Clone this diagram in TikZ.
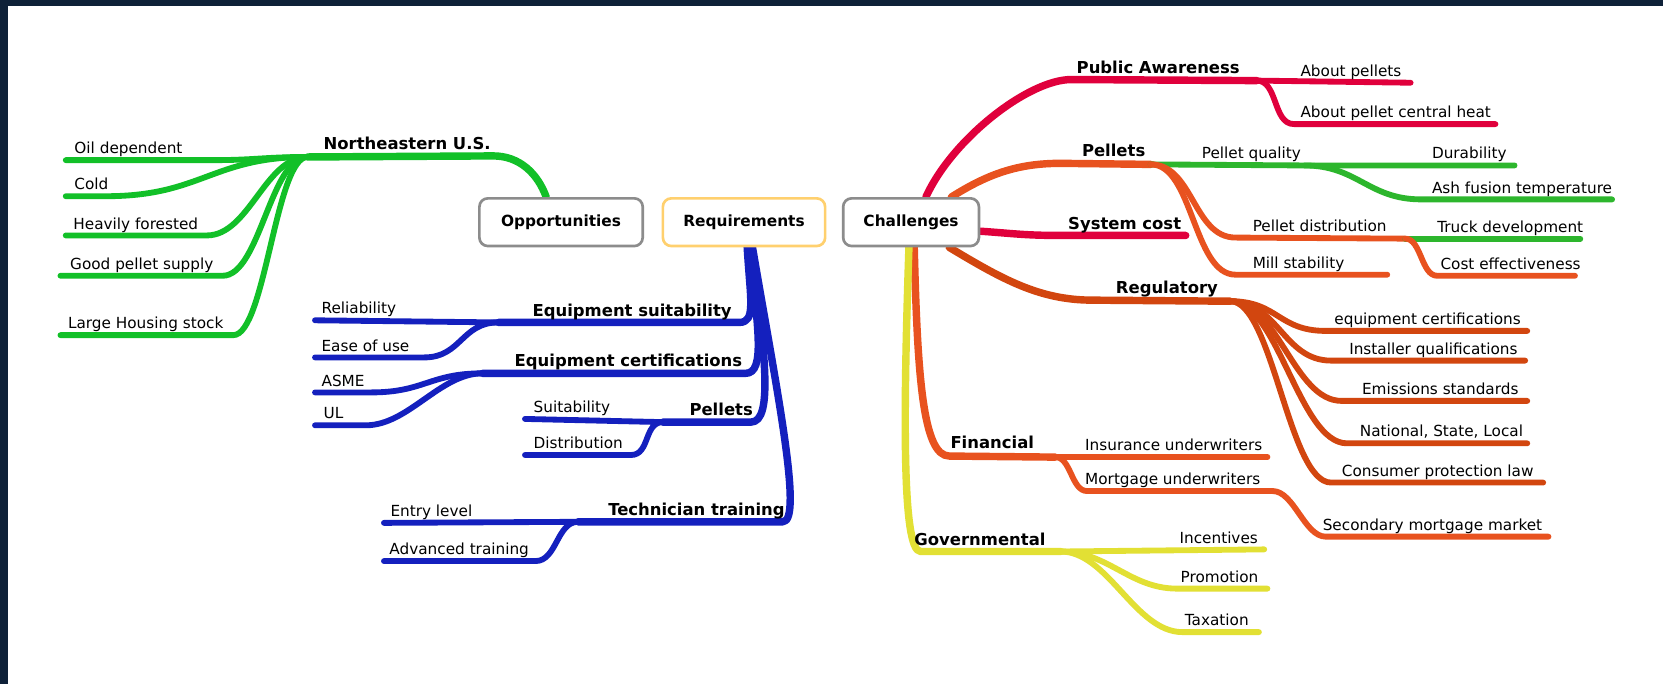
\documentclass[tikz,border=0pt]{standalone}
\usepackage{fontspec}
\setmainfont{DejaVu Sans}
\definecolor{frame}{RGB}{14,33,56}
\definecolor{gOpp}{RGB}{18,192,40}
\definecolor{bReq}{RGB}{20,32,190}
\definecolor{cRed}{RGB}{224,0,60}
\definecolor{cOrange}{RGB}{232,82,31}
\definecolor{cRust}{RGB}{210,70,15}
\definecolor{cYellow}{RGB}{226,224,52}
\definecolor{cGreen}{RGB}{45,182,45}
\definecolor{boxGray}{RGB}{140,140,140}
\definecolor{boxGold}{RGB}{255,208,110}
\pgfdeclarelayer{back}
\pgfsetlayers{back,main}
% a sub-topic line: outer end -- knee, then an S-curve into the junction
\newcommand{\limb}[5]{\draw[wire,#1] (#4) -- (#3) .. controls +({#5},0) and +({-(#5)},0) .. (#2);}
\begin{document}
\begin{tikzpicture}[x=1pt,y=-1pt,
  leaf/.style={font=\fontsize{14.4}{16}\selectfont, inner sep=0pt, anchor=base west},
  branch/.style={font=\bfseries\fontsize{15.5}{18}\selectfont, inner sep=0pt, anchor=base west},
  root/.style={draw, fill=white, rounded corners=8pt, line width=2.5pt, minimum height=45pt, inner sep=0pt, font=\bfseries\fontsize{14.5}{17}\selectfont},
  wire/.style={line width=5.5pt, line cap=round, line join=round},
  trunk/.style={wire, line width=7pt},
]
\useasboundingbox (0,0) rectangle (1568,645);

% central topics
\node[root, draw=boxGray, minimum width=154pt] (opp) at (529,209.5) {\raisebox{-1pt}{Opportunities}};
\node[root, draw=boxGold, minimum width=153pt] (req) at (701.5,209.5) {\raisebox{-1pt}{Requirements}};
\node[root, draw=boxGray, minimum width=128pt] (chal) at (859,209.5) {\raisebox{-1pt}{Challenges}};

% junctions, knees and outer ends
\coordinate (ne-j) at (290,148);   \coordinate (ne-e) at (465,147);
\coordinate (oil-k) at (200,151);  \coordinate (oil-l) at (62,151);
\coordinate (cold-k) at (100,185); \coordinate (cold-l) at (62,185);
\coordinate (hf-k) at (195,222);   \coordinate (hf-l) at (62,222);
\coordinate (gp-k) at (210,260);   \coordinate (gp-l) at (57,260);
\coordinate (lh-k) at (220,316);   \coordinate (lh-l) at (57,316);

\coordinate (es-k) at (697,304);   \coordinate (es-j) at (470,304);
\coordinate (ec-k) at (703,352);   \coordinate (ec-j) at (455,352);
\coordinate (pl-k) at (708,398);   \coordinate (pl-j) at (625,398);
\coordinate (tt-k) at (738,492);   \coordinate (tt-j) at (545,492);
\coordinate (rel-l) at (297,302);
\coordinate (ease-k) at (400,337); \coordinate (ease-l) at (297,337);
\coordinate (asme-k) at (350,370); \coordinate (asme-l) at (297,370);
\coordinate (ul-k) at (345,401);   \coordinate (ul-l) at (297,401);
\coordinate (suit-l) at (495,395);
\coordinate (dist-k) at (595,429); \coordinate (dist-l) at (495,429);
\coordinate (entry-l) at (362,493);
\coordinate (adv-k) at (505,529);  \coordinate (adv-l) at (362,529);

\coordinate (pa-k) at (1010,75);   \coordinate (pa-j) at (1185,76);
\coordinate (ap-r) at (1330,78);
\coordinate (apc-k) at (1220,117); \coordinate (apc-r) at (1410,117);
\coordinate (pe-k) at (1000,154);  \coordinate (pe-j) at (1085,155);
\coordinate (pq-j) at (1230,156);  \coordinate (dur-r) at (1428,156);
\coordinate (ash-k) at (1340,188); \coordinate (ash-r) at (1520,188);
\coordinate (pd-k) at (1165,224);  \coordinate (pd-j) at (1325,225);
\coordinate (tr-r) at (1490,225);
\coordinate (ce-k) at (1355,260);  \coordinate (ce-r) at (1485,260);
\coordinate (ms-k) at (1165,259);  \coordinate (ms-r) at (1308,259);
\coordinate (sc-k) at (1000,222);  \coordinate (sc-r) at (1118,222);
\coordinate (rg-k) at (1030,283);  \coordinate (rg-j) at (1160,284);
\coordinate (eqc-k) at (1250,312); \coordinate (eqc-r) at (1440,312);
\coordinate (ins-k) at (1255,340); \coordinate (ins-r) at (1438,340);
\coordinate (em-k) at (1265,378);  \coordinate (em-r) at (1440,378);
\coordinate (nat-k) at (1270,418); \coordinate (nat-r) at (1440,418);
\coordinate (con-k) at (1255,455); \coordinate (con-r) at (1455,455);
\coordinate (fi-k) at (895,430);   \coordinate (fi-j) at (995,431);
\coordinate (iu-r) at (1195,431);
\coordinate (mo-k) at (1025,463);  \coordinate (mo-j) at (1200,463);
\coordinate (sm-k) at (1250,506);  \coordinate (sm-r) at (1460,506);
\coordinate (gv-k) at (868,520);   \coordinate (gv-j) at (1000,520);
\coordinate (inc-r) at (1192,518);
\coordinate (pro-k) at (1110,555); \coordinate (pro-r) at (1195,555);
\coordinate (tax-k) at (1115,596); \coordinate (tax-r) at (1187,596);

\begin{pgfonlayer}{back}
  \fill[white] (0,0) rectangle (1568,645);
  \fill[frame] (0,0) rectangle (1568,6);
  \fill[frame] (0,0) rectangle (8,645);

  % Opportunities
  \draw[trunk,gOpp] ([xshift=-14pt]opp.north) .. controls +(-8,-22) and +(25,0) .. (ne-e) -- (ne-j);
  \limb{gOpp}{ne-j}{oil-k}{oil-l}{40}
  \limb{gOpp}{ne-j}{cold-k}{cold-l}{90}
  \limb{gOpp}{ne-j}{hf-k}{hf-l}{40}
  \limb{gOpp}{ne-j}{gp-k}{gp-l}{35}
  \limb{gOpp}{ne-j}{lh-k}{lh-l}{30}

  % Requirements
  \draw[trunk,bReq] ([xshift=3pt]req.south) .. controls +(3,50) and +(16,0) .. (es-k) -- (es-j);
  \draw[trunk,bReq] ([xshift=5pt]req.south) .. controls +(8,75) and +(19,0) .. (ec-k) -- (ec-j);
  \draw[trunk,bReq] ([xshift=7pt]req.south) .. controls +(12,95) and +(22,0) .. (pl-k) -- (pl-j);
  \draw[trunk,bReq] ([xshift=8pt]req.south) .. controls +(22,130) and +(20,0) .. (tt-k) -- (tt-j);
  \draw[wire,bReq] (rel-l) -- (es-j);
  \limb{bReq}{es-j}{ease-k}{ease-l}{35}
  \limb{bReq}{ec-j}{asme-k}{asme-l}{50}
  \limb{bReq}{ec-j}{ul-k}{ul-l}{40}
  \draw[wire,bReq] (suit-l) -- (pl-j);
  \limb{bReq}{pl-j}{dist-k}{dist-l}{18}
  \draw[wire,bReq] (entry-l) -- (tt-j);
  \limb{bReq}{tt-j}{adv-k}{adv-l}{20}

  % Challenges
  \draw[trunk,cRed] ([xshift=14pt]chal.north) .. controls +(25,-55) and +(-40,0) .. (pa-k) -- (pa-j);
  \draw[wire,cRed] (pa-j) -- (ap-r);
  \limb{cRed}{pa-j}{apc-k}{apc-r}{-20}

  \draw[trunk,cOrange] ([xshift=38pt]chal.north) .. controls +(35,-22) and +(-40,0) .. (pe-k) -- (pe-j);
  \draw[wire,cGreen] (pe-j) -- (pq-j) -- (dur-r);
  \limb{cGreen}{pq-j}{ash-k}{ash-r}{-50}
  \limb{cOrange}{pe-j}{pd-k}{pd-j}{-40}
  \draw[wire,cGreen] (pd-j) -- (tr-r);
  \limb{cOrange}{pd-j}{ce-k}{ce-r}{-15}
  \limb{cOrange}{pe-j}{ms-k}{ms-r}{-40}

  \draw[trunk,cRed] ([yshift=-8.5pt]chal.east) .. controls +(30,2) and +(-35,0) .. (sc-k) -- (sc-r);

  \draw[trunk,cRust] ([xshift=36pt]chal.south) .. controls +(50,30) and +(-50,0) .. (rg-k) -- (rg-j);
  \limb{cRust}{rg-j}{eqc-k}{eqc-r}{-45}
  \limb{cRust}{rg-j}{ins-k}{ins-r}{-45}
  \limb{cRust}{rg-j}{em-k}{em-r}{-45}
  \limb{cRust}{rg-j}{nat-k}{nat-r}{-45}
  \limb{cRust}{rg-j}{con-k}{con-r}{-40}

  \draw[trunk,cOrange] ([xshift=3pt]chal.south) .. controls +(3,120) and +(-25,0) .. (fi-k) -- (fi-j);
  \draw[wire,cOrange] (fi-j) -- (iu-r);
  \limb{cOrange}{fi-j}{mo-k}{mo-j}{-15}
  \limb{cOrange}{mo-j}{sm-k}{sm-r}{-20}

  \draw[trunk,cYellow] ([xshift=-2pt]chal.south) .. controls +(-5,150) and +(-18,0) .. (gv-k) -- (gv-j);
  \draw[wire,cYellow] (gv-j) -- (inc-r);
  \limb{cYellow}{gv-j}{pro-k}{pro-r}{-45}
  \limb{cYellow}{gv-j}{tax-k}{tax-r}{-45}
\end{pgfonlayer}

% labels: Opportunities
\node[branch] (t-ne) at (305,141) {Northeastern U.S.};
\node[leaf] (t-oil) at (70,145) {Oil dependent};
\node[leaf] (t-cold) at (70,179) {Cold};
\node[leaf] (t-hf) at (69,216) {Heavily forested};
\node[leaf] (t-gp) at (66,254) {Good pellet supply};
\node[leaf] (t-lh) at (64,310) {Large Housing stock};

% labels: Requirements
\node[branch, anchor=base east] (t-es) at (690,298) {Equipment suitability};
\node[branch, anchor=base east] (t-ec) at (700,346) {Equipment certifications};
\node[branch, anchor=base east] (t-pl) at (710,392) {Pellets};
\node[branch, anchor=base east] (t-tt) at (740,486) {Technician training};
\node[leaf] (t-rel) at (303,296) {Reliability};
\node[leaf] (t-ease) at (303,331) {Ease of use};
\node[leaf] (t-asme) at (303,364) {ASME};
\node[leaf] (t-ul) at (305,395) {UL};
\node[leaf] (t-suit) at (503,389) {Suitability};
\node[leaf] (t-dist) at (503,423) {Distribution};
\node[leaf] (t-entry) at (368,487) {Entry level};
\node[leaf] (t-adv) at (367,523) {Advanced training};

% labels: Challenges
\node[branch] (t-pa) at (1015,69) {Public Awareness};
\node[leaf] (t-ap) at (1226,72) {About pellets};
\node[leaf] (t-apc) at (1226,111) {About pellet central heat};
\node[branch] (t-pe) at (1020,148) {Pellets};
\node[leaf] (t-pq) at (1133,149) {Pellet quality};
\node[leaf] (t-dur) at (1350,149) {Durability};
\node[leaf] (t-ash) at (1350,182) {Ash fusion temperature};
\node[leaf] (t-pd) at (1181,218) {Pellet distribution};
\node[leaf] (t-tr) at (1355,219) {Truck development};
\node[leaf] (t-ce) at (1358,254) {Cost effectiveness};
\node[leaf] (t-ms) at (1181,253) {Mill stability};
\node[branch] (t-sc) at (1007,216) {System cost};
\node[branch] (t-rg) at (1052,277) {Regulatory};
\node[leaf] (t-eqc) at (1258,306) {equipment certifications};
\node[leaf] (t-ins) at (1272,334) {Installer qualifications};
\node[leaf] (t-em) at (1284,372) {Emissions standards};
\node[leaf] (t-nat) at (1282,412) {National, State, Local};
\node[leaf] (t-con) at (1265,449) {Consumer protection law};
\node[branch] (t-fi) at (896,423) {Financial};
\node[leaf] (t-iu) at (1023,425) {Insurance underwriters};
\node[leaf] (t-mo) at (1023,457) {Mortgage underwriters};
\node[leaf] (t-sm) at (1247,500) {Secondary mortgage market};
\node[branch] (t-gv) at (862,514) {Governmental};
\node[leaf] (t-inc) at (1112,512) {Incentives};
\node[leaf] (t-pro) at (1113,549) {Promotion};
\node[leaf] (t-tax) at (1117,590) {Taxation};
\end{tikzpicture}
\end{document}
